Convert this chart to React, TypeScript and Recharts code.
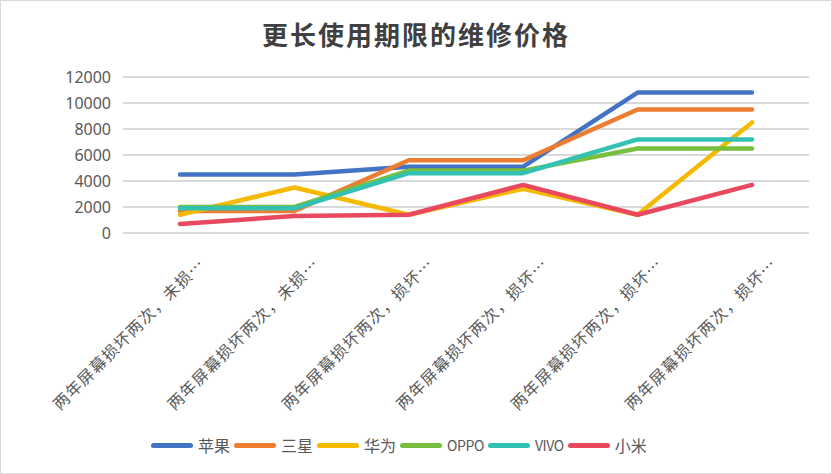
import React from 'react';
import { LineChart, Line, XAxis, YAxis, CartesianGrid } from 'recharts';

const categories = [
  '两年屏幕损坏两次，未损…',
  '两年屏幕损坏两次，未损…',
  '两年屏幕损坏两次，损坏…',
  '两年屏幕损坏两次，损坏…',
  '两年屏幕损坏两次，损坏…',
  '两年屏幕损坏两次，损坏…',
];

const apple = [4500, 4500, 5100, 5100, 10800, 10800];
const samsung = [1700, 1700, 5600, 5600, 9500, 9500];
const huawei = [1400, 3500, 1400, 3400, 1400, 8500];
const oppo = [2000, 2000, 4800, 4800, 6500, 6500];
const vivo = [1900, 1900, 4600, 4600, 7200, 7200];
const xiaomi = [700, 1300, 1400, 3700, 1400, 3700];

const yTicks = [0, 2000, 4000, 6000, 8000, 10000, 12000];

const series = [
  { key: 'apple', name: '苹果', color: '#4472C4', values: apple },
  { key: 'samsung', name: '三星', color: '#ED7D31', values: samsung },
  { key: 'huawei', name: '华为', color: '#F5BA00', values: huawei },
  { key: 'oppo', name: 'OPPO', color: '#78BE3F', values: oppo },
  { key: 'vivo', name: 'VIVO', color: '#33C1B3', values: vivo },
  { key: 'xiaomi', name: '小米', color: '#E8495E', values: xiaomi },
];

const data = categories.map((name, i) => {
  const row: Record<string, string | number> = { name, idx: i };
  series.forEach((s) => {
    row[s.key] = s.values[i];
  });
  return row;
});

const font = '"Noto Sans CJK SC", "Noto Sans", sans-serif';

const XTick = ({ x, y, payload }: any) => (
  <g transform={`translate(${x + 26},${y + 24}) rotate(-45)`}>
    <text textAnchor="end" fill="#595959" fontSize={16} fontFamily={font} letterSpacing={1.2}>
      {categories[payload.value]}
    </text>
  </g>
);

const isLatin = (s: string) => /^[A-Za-z]+$/.test(s);

const LegendBox = () => (
  <div style={{ position: 'absolute', left: 150, top: 432, display: 'flex', alignItems: 'center', fontFamily: font, fontSize: 16, color: '#595959' }}>
    {series.map((s) => (
      <div key={s.key} style={{ display: 'flex', alignItems: 'center', marginRight: 4 }}>
        <span style={{ display: 'inline-block', width: 42, height: 5, borderRadius: 3, background: s.color, marginRight: 5 }} />
        <span style={isLatin(s.name) ? { fontSize: 14, letterSpacing: -0.4 } : undefined}>{s.name}</span>
      </div>
    ))}
  </div>
);

export default function App() {
  return (
    <div style={{ position: 'absolute', left: 0, top: 0, width: 830, height: 472, border: '1px solid #d9d9d9', background: '#fff' }}>
      <div style={{ position: 'absolute', left: 0, width: 830, top: 14, textAlign: 'center', fontFamily: '"Noto Sans CJK SC", serif', fontWeight: 700, fontSize: 26, letterSpacing: 2, color: '#404040' }}>
        更长使用期限的维修价格
      </div>
      <LineChart width={830} height={472} data={data} margin={{ top: 76, right: 22, left: 0, bottom: 0 }}>
        <CartesianGrid vertical={false} stroke="#d9d9d9" strokeWidth={2} />
        <XAxis dataKey="idx" type="category" allowDuplicatedCategory tick={<XTick />} axisLine={{ stroke: '#d9d9d9', strokeWidth: 2 }} tickLine={false} height={240} interval={0} padding={{ left: 57, right: 57 }} />
        <YAxis domain={[0, 12000]} ticks={yTicks} interval={0} width={122} axisLine={false} tickLine={false} tickMargin={6}
          tick={{ fontSize: 16, fill: '#595959', fontFamily: '"Noto Sans", sans-serif' }} />
        {series.map((s) => (
          <Line key={s.key} dataKey={s.key} name={s.name} stroke={s.color} strokeWidth={4.5} dot={false} isAnimationActive={false} strokeLinecap="round" strokeLinejoin="round" />
        ))}
      </LineChart>
      <LegendBox />
    </div>
  );
}
